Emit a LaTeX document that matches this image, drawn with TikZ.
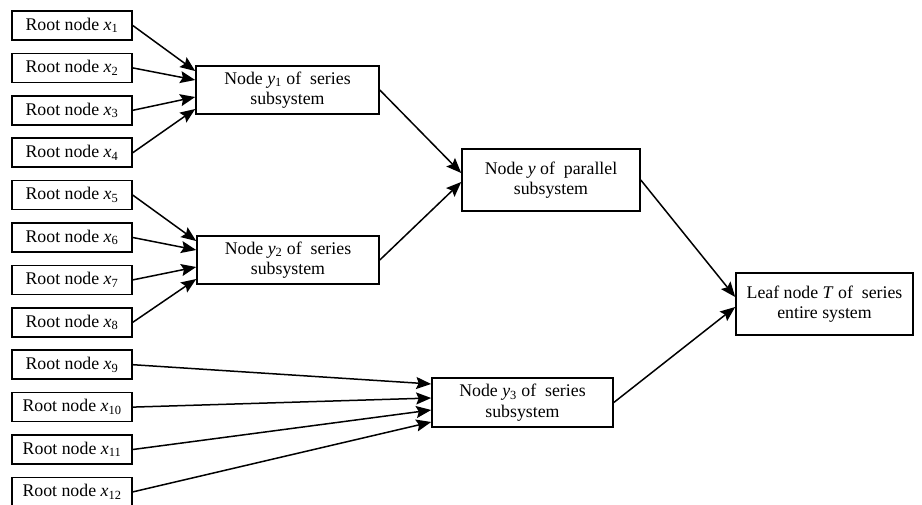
\documentclass[tikz,border=0pt]{standalone}
\usepackage{fontspec}
\setmainfont{Liberation Serif}
\usetikzlibrary{arrows.meta}
\newcommand{\xv}[1]{\textit{x}\textsubscript{#1}}
\newcommand{\yv}[1]{\textit{y}\textsubscript{#1}}
\begin{document}
\begin{tikzpicture}[x=1pt,y=-1pt,
  box/.style={draw,line width=1.6pt,inner sep=0pt,align=center,font=\fontsize{17.8}{20.5}\selectfont},
  rootbox/.style={box,minimum width=120pt,minimum height=29pt},
  conn/.style={line width=1.5pt,-{Stealth[length=15pt,width=12pt,inset=2.5pt]}}]
\useasboundingbox (0,0) rectangle (922,504);
\foreach \i in {1,...,12}{
  \node[rootbox] (r\i) at (72,{25.5+42.4*(\i-1)}) {Root node \xv{\i}};
}
\node[box,minimum width=183pt,minimum height=48pt] (y1) at (287.5,90) {Node \yv{1} of\ \ series\\subsystem};
\node[box,minimum width=182pt,minimum height=48pt] (y2) at (288,260) {Node \yv{2} of\ \ series\\subsystem};
\node[box,minimum width=181pt,minimum height=49pt] (y3) at (522.5,402.5) {Node \yv{3} of\ \ series\\subsystem};
\node[box,minimum width=178pt,minimum height=62pt] (y) at (551,180) {Node \textit{y} of\ \ parallel\\subsystem};
\node[box,minimum width=177pt,minimum height=62pt] (T) at (824.5,304) {Leaf node \textit{T}\ of\ \ series\\entire system};
% into y1
\draw[conn] (r1.east) -- ([yshift=19pt]y1.west);
\draw[conn] (r2.east) -- ([yshift=10pt]y1.west);
\draw[conn] (r3.east) -- ([yshift=-7pt]y1.west);
\draw[conn] (r4.east) -- ([yshift=-19pt]y1.west);
% into y2
\draw[conn] (r5.east) -- ([yshift=19pt]y2.west);
\draw[conn] (r6.east) -- ([yshift=10pt]y2.west);
\draw[conn] (r7.east) -- ([yshift=-7pt]y2.west);
\draw[conn] (r8.east) -- ([yshift=-19pt]y2.west);
% into y3
\draw[conn] (r9.east) -- ([yshift=18.5pt]y3.west);
\draw[conn] (r10.east) -- ([yshift=4.5pt]y3.west);
\draw[conn] (r11.east) -- ([yshift=-7.5pt]y3.west);
\draw[conn] (r12.east) -- ([yshift=-19.5pt]y3.west);
% into y
\draw[conn] (y1.east) -- ([yshift=7pt]y.west);
\draw[conn] (y2.east) -- ([yshift=-2pt]y.west);
% into T
\draw[conn] (y.east) -- ([yshift=7pt]T.west);
\draw[conn] (y3.east) -- ([yshift=-3pt]T.west);
\end{tikzpicture}
\end{document}
